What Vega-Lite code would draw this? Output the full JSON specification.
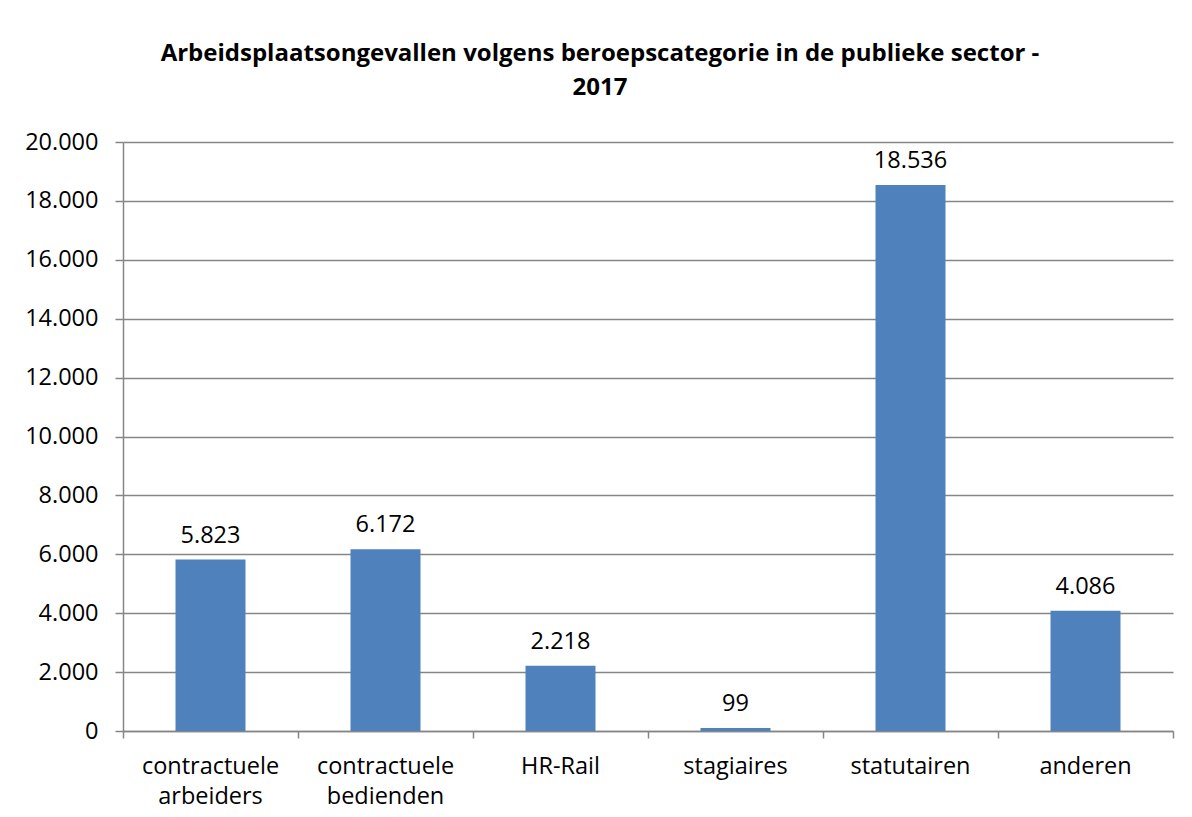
{
  "$schema": "https://vega.github.io/schema/vega-lite/v6.json",
  "autosize": "none",
  "width": 1050,
  "height": 589,
  "padding": {"left": 123, "top": 142, "right": 19, "bottom": 86},
  "background": "white",
  "title": {
    "text": ["Arbeidsplaatsongevallen volgens beroepscategorie in de publieke sector -", "2017"],
    "font": "Open Sans",
    "fontSize": 24,
    "fontWeight": "bold",
    "color": "#000000",
    "anchor": "middle",
    "dx": -48,
    "offset": 30,
    "lineHeight": 34
  },
  "data": {
    "values": [
      {"categorie": "contractuele arbeiders", "aantal": 5823},
      {"categorie": "contractuele bedienden", "aantal": 6172},
      {"categorie": "HR-Rail", "aantal": 2218},
      {"categorie": "stagiaires", "aantal": 99},
      {"categorie": "statutairen", "aantal": 18536},
      {"categorie": "anderen", "aantal": 4086}
    ]
  },
  "encoding": {
    "y": {
      "field": "aantal",
      "type": "quantitative",
      "scale": {"domain": [0, 20000], "nice": false},
      "axis": {
        "title": null,
        "values": [0, 2000, 4000, 6000, 8000, 10000, 12000, 14000, 16000, 18000, 20000],
        "format": ",d",
        "labelFont": "Open Sans",
        "labelFontSize": 23.5,
        "labelColor": "#000000",
        "labelPadding": 17,
        "tickColor": "#868686",
        "tickSize": 8,
        "tickWidth": 1.5,
        "domainColor": "#868686",
        "domainWidth": 1.5,
        "gridColor": "#868686",
        "gridWidth": 1.5
      }
    }
  },
  "layer": [
    {
      "mark": {"type": "bar", "color": "#4F81BD", "width": {"band": 0.4}},
      "encoding": {
        "x": {
          "field": "categorie",
          "type": "nominal",
          "sort": null,
          "scale": {"paddingInner": 0, "paddingOuter": 0},
          "axis": {
            "title": null,
            "orient": "bottom",
            "labelAngle": 0,
            "bandPosition": 0,
            "labelFont": "Open Sans",
            "labelFontSize": 23.5,
            "labelColor": "#000000",
            "labelPadding": 16,
            "labelLineHeight": 30,
            "labelBaseline": "top",
            "tickColor": "#868686",
            "tickSize": 7,
            "domainColor": "#868686",
            "domainWidth": 1.5,
            "tickWidth": 1.5,
            "grid": false,
            "labelExpr": "indexof(datum.label, 'contractuele') == 0 ? split(datum.label, ' ') : datum.label"
          }
        }
      }
    },
    {
      "mark": {"type": "text", "font": "Open Sans", "fontSize": 23.5, "color": "#000000", "baseline": "bottom", "dy": -12},
      "encoding": {
        "x": {
          "field": "categorie",
          "type": "nominal",
          "sort": null,
          "axis": {
            "title": null,
            "orient": "bottom",
            "values": ["anderen"],
            "bandPosition": 1,
            "labels": false,
            "domain": false,
            "grid": false,
            "tickColor": "#868686",
            "tickSize": 7,
            "tickWidth": 1.5
          }
        },
        "text": {"field": "aantal", "type": "quantitative", "format": ",d"}
      }
    }
  ],
  "resolve": {"axis": {"x": "independent"}},
  "config": {
    "view": {"stroke": null},
    "locale": {
      "number": {"decimal": ",", "thousands": ".", "grouping": [3], "currency": ["€", ""]}
    }
  }
}
